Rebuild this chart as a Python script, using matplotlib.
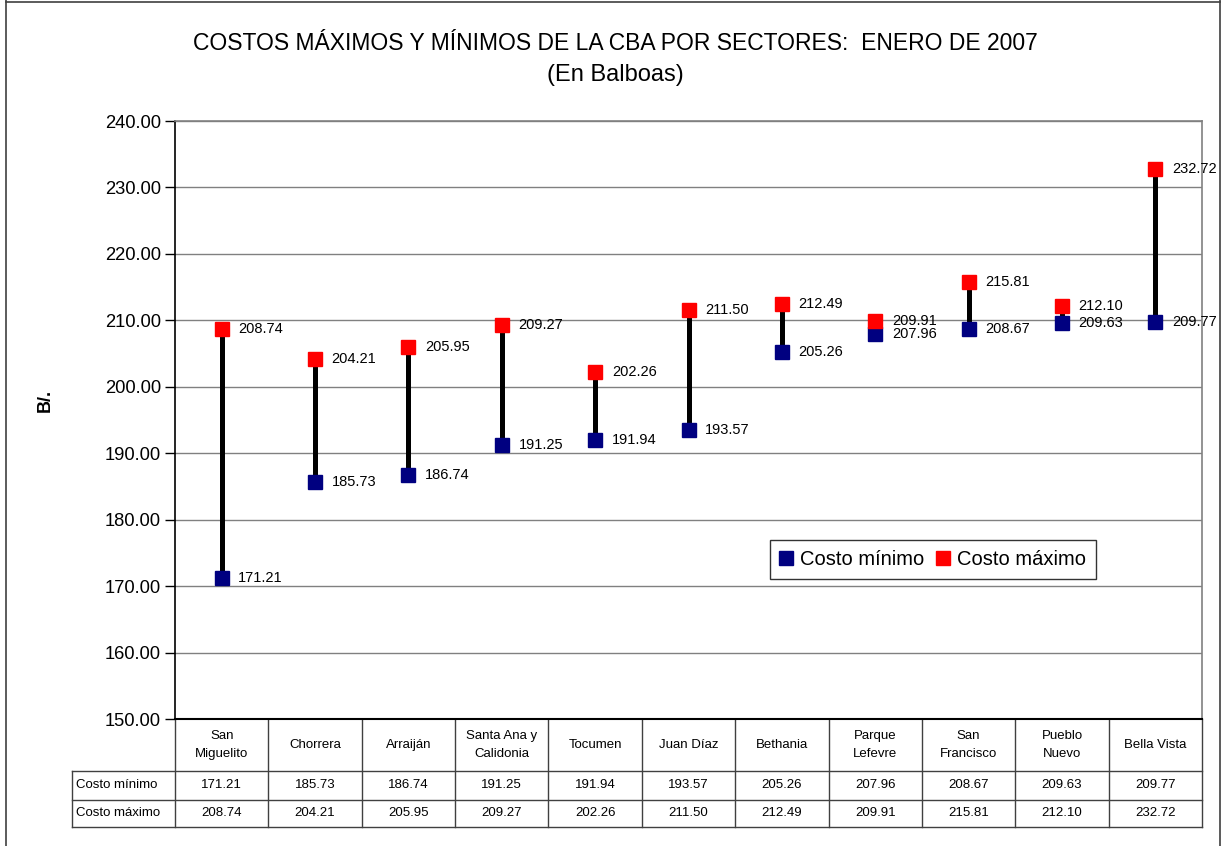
import numpy as np
import matplotlib.pyplot as plt
from matplotlib.lines import Line2D
import matplotlib.transforms as mtransforms

plt.rcParams['font.family'] = ['Liberation Sans', 'DejaVu Sans']

sectores = ['San\nMiguelito', 'Chorrera', 'Arraiján', 'Santa Ana y\nCalidonia', 'Tocumen',
            'Juan Díaz', 'Bethania', 'Parque\nLefevre', 'San\nFrancisco', 'Pueblo\nNuevo',
            'Bella Vista']
costo_min = [171.21, 185.73, 186.74, 191.25, 191.94, 193.57, 205.26, 207.96, 208.67, 209.63, 209.77]
costo_max = [208.74, 204.21, 205.95, 209.27, 202.26, 211.50, 212.49, 209.91, 215.81, 212.10, 232.72]

W, H = 1222, 846
fig = plt.figure(figsize=(W / 100, H / 100), dpi=100)
ax = fig.add_axes([175 / W, 1 - 719 / H, (1202 - 175) / W, 598 / H])

x = np.arange(len(sectores))
ax.vlines(x, costo_min, costo_max, color='black', lw=3.6, zorder=3)
ax.plot(x, costo_min, 's', color='#000080', ms=10, zorder=4, label='Costo mínimo')
ax.plot(x, costo_max, 's', color='#ff0000', ms=10, zorder=4, label='Costo máximo')

for xi, lo, hi in zip(x, costo_min, costo_max):
    ax.annotate(f'{lo:.2f}', (xi, lo), xytext=(12, 0), textcoords='offset points',
                va='center', ha='left', fontsize=10.5, zorder=5)
    ax.annotate(f'{hi:.2f}', (xi, hi), xytext=(12, 0), textcoords='offset points',
                va='center', ha='left', fontsize=10.5, zorder=5)

ax.set_xlim(-0.5, len(sectores) - 0.5)
ax.set_ylim(150, 240)
ax.set_yticks(np.arange(150, 241, 10))
ax.set_yticklabels([f'{v:.2f}' for v in np.arange(150, 241, 10)], fontsize=13.2)
ax.tick_params(axis='y', direction='out', length=7, width=1, pad=3)
ax.set_xticks([])
ax.yaxis.grid(True, color='#808080', lw=1)
ax.set_axisbelow(True)
for s in ['top', 'right']:
    ax.spines[s].set_color('#808080')
    ax.spines[s].set_linewidth(1.2)
ax.spines['left'].set_linewidth(1.2)
ax.spines['bottom'].set_linewidth(1.5)

leg = ax.legend(loc='upper left', bbox_to_anchor=((770 - 175) / 1027, 1 - (540 - 121) / 598),
                ncol=2, fontsize=14.5, frameon=True, fancybox=False, handlelength=0.6,
                handletextpad=0.4, columnspacing=0.6, borderpad=0.5, borderaxespad=0)
leg.get_frame().set_edgecolor('black')
leg.get_frame().set_linewidth(1)

# data table under the axis
tr = mtransforms.blended_transform_factory(ax.transData, ax.transAxes)
px = 11 / 1027
y0, y1, y2, y3 = 0.0, -52 / 598, -81 / 598, -108 / 598
xl = -0.5 - (175 - 72) * px
xr = len(sectores) - 0.5
lk = dict(color='#404040', lw=1, transform=tr, clip_on=False)
for b in np.arange(-0.5, len(sectores), 1.0):
    ax.add_line(Line2D([b, b], [y0, y3], **lk))
for yy in (y1, y2, y3):
    ax.add_line(Line2D([xl, xr], [yy, yy], **lk))
ax.add_line(Line2D([xl, xl], [y1, y3], **lk))

for xi, name, lo, hi in zip(x, sectores, costo_min, costo_max):
    ax.text(xi, (y0 + y1) / 2, name, transform=tr, ha='center', va='center',
            fontsize=9.5, linespacing=1.75)
    ax.text(xi, (y1 + y2) / 2, f'{lo:.2f}', transform=tr, ha='center', va='center', fontsize=9.5)
    ax.text(xi, (y2 + y3) / 2, f'{hi:.2f}', transform=tr, ha='center', va='center', fontsize=9.5)
ax.text(xl + 4 * px, (y1 + y2) / 2, 'Costo mínimo', transform=tr, ha='left', va='center', fontsize=9.5)
ax.text(xl + 4 * px, (y2 + y3) / 2, 'Costo máximo', transform=tr, ha='left', va='center', fontsize=9.5)

fig.text(615 / W, 1 - 43 / H, 'COSTOS MÁXIMOS Y MÍNIMOS DE LA CBA POR SECTORES:  ENERO DE 2007',
         ha='center', va='center', fontsize=16.5)
fig.text(615 / W, 1 - 75 / H, '(En Balboas)', ha='center', va='center', fontsize=17)
fig.text(45 / W, 1 - 400 / H, 'B/.', rotation=90, ha='center', va='center',
         fontsize=13, fontweight='bold')

# outer frame of the chart
for xs, ys in [([6, 6], [0, H]), ([6, 1220], [2, 2]), ([1220, 1220], [0, H])]:
    fig.add_artist(Line2D([v / W for v in xs], [1 - v / H for v in ys], color='#404040', lw=1.2,
                          transform=fig.transFigure))

fig.savefig('out.png', dpi=100)
